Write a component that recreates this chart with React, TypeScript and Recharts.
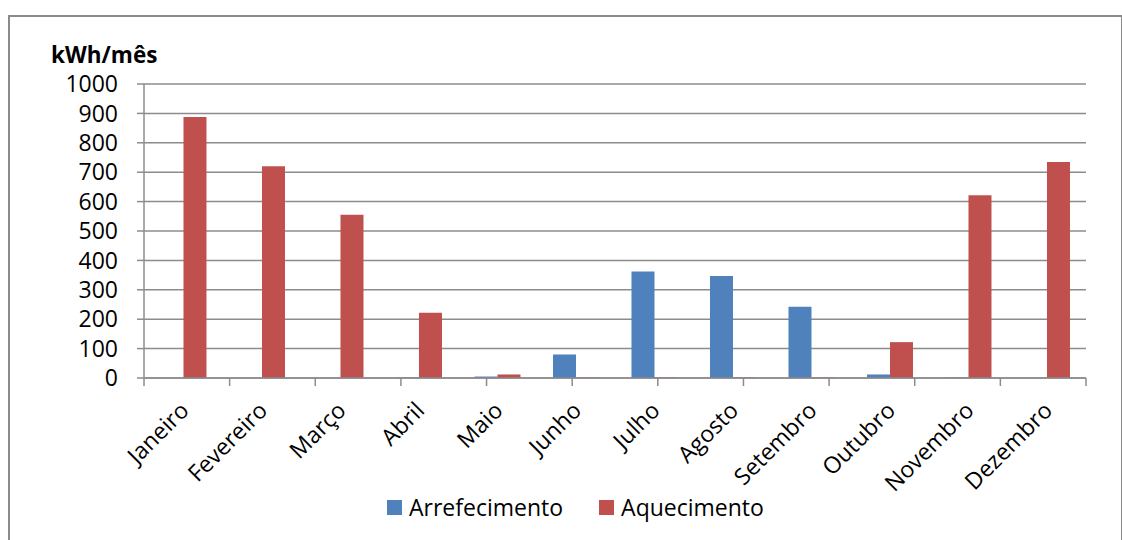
import React from "react";
import { BarChart, Bar, XAxis, YAxis, CartesianGrid } from "recharts";

const months = ["Janeiro", "Fevereiro", "Março", "Abril", "Maio", "Junho", "Julho", "Agosto", "Setembro", "Outubro", "Novembro", "Dezembro"];
const arrefecimento = [0, 0, 0, 2, 5, 80, 362, 347, 242, 12, 2, 0];
const aquecimento = [888, 720, 555, 222, 12, 2, 2, 2, 2, 122, 622, 735];
const yTicks = [0, 100, 200, 300, 400, 500, 600, 700, 800, 900, 1000];
const boundaryTicks = [0, 1, 2, 3, 4, 5, 6, 7, 8, 9, 10, 11, 12];

const data = months.map((m, i) => ({ month: m, arrefecimento: arrefecimento[i], aquecimento: aquecimento[i] }));

const FONT = "'Open Sans', Lato, sans-serif";
const BLUE = "#4F81BD";
const RED = "#C0504D";
const GRID = "#8c8c8c";

const MonthTick = (props: any) => {
  const { x, y, payload } = props;
  return (
    <g transform={`translate(${x + 7},${y + 25})`}>
      <text transform="rotate(-45)" textAnchor="end" fontSize={23} fontFamily={FONT} fill="#000">
        {payload.value}
      </text>
    </g>
  );
};

const EmptyTick = () => <g />;

export default function App() {
  return (
    <div style={{ position: "absolute", left: 0, top: 0, width: 1122, height: 540, overflow: "hidden", background: "#fff" }}>
      <div style={{ position: "absolute", left: 8, top: 15, width: 1111, height: 600, border: "2px solid #8a8a8a" }} />
      <div style={{ position: "absolute", left: 51, top: 46, lineHeight: "18px", fontFamily: FONT, fontWeight: 700, fontSize: 22.5, color: "#000" }}>kWh/mês</div>
      <div style={{ position: "absolute", left: 0, top: 0 }}>
        <BarChart width={1122} height={540} data={data} margin={{ top: 84, right: 36, left: 0, bottom: 160 }} barCategoryGap="21%" barGap={0}>
          <CartesianGrid vertical={false} stroke={GRID} strokeWidth={1.5} />
          <XAxis dataKey="month" xAxisId="cat" tick={<MonthTick />} tickLine={false} axisLine={false} interval={0} height={1} />
          <XAxis xAxisId="bound" type="number" domain={[0, 12]} ticks={boundaryTicks} allowDataOverflow interval={0} tick={<EmptyTick />} tickSize={8} tickLine={{ stroke: GRID, strokeWidth: 1.5 }} axisLine={{ stroke: GRID, strokeWidth: 1.5 }} height={1} />
          <YAxis domain={[0, 1000]} ticks={yTicks} width={144} tickSize={7} tickMargin={19} interval={0}
            tick={{ fontSize: 23, fontFamily: FONT, fill: "#000" }}
            tickLine={{ stroke: GRID, strokeWidth: 1.5 }} axisLine={{ stroke: GRID, strokeWidth: 1.5 }} />
          <Bar xAxisId="cat" dataKey="arrefecimento" fill={BLUE} isAnimationActive={false} />
          <Bar xAxisId="cat" dataKey="aquecimento" fill={RED} isAnimationActive={false} />
        </BarChart>
      </div>
      <div style={{ position: "absolute", left: 387, top: 491, display: "flex", alignItems: "center", fontFamily: FONT, fontSize: 23, color: "#000" }}>
        <span style={{ width: 15, height: 15, background: BLUE, display: "inline-block", marginRight: 7 }} />
        <span>Arrefecimento</span>
        <span style={{ width: 15, height: 15, background: RED, display: "inline-block", marginLeft: 36, marginRight: 7 }} />
        <span>Aquecimento</span>
      </div>
    </div>
  );
}
